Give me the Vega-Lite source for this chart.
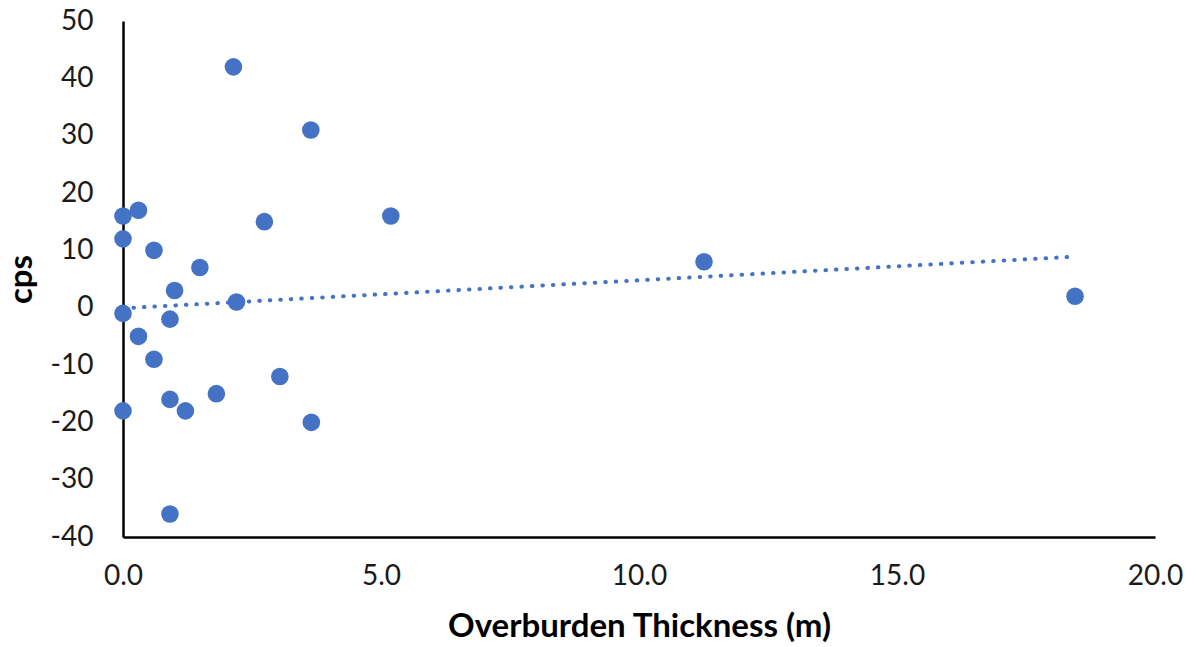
{
  "$schema": "https://vega.github.io/schema/vega-lite/v6.json",
  "autosize": "none",
  "width": 1032,
  "height": 516,
  "padding": {"left": 123, "top": 21, "right": 41, "bottom": 110},
  "background": "white",
  "config": {
    "view": {"stroke": null},
    "font": "Lato",
    "axis": {
      "grid": false,
      "ticks": false,
      "labelFlush": false,
      "domainColor": "#000000",
      "domainWidth": 2.5,
      "labelFont": "Lato",
      "labelFontSize": 28,
      "labelColor": "#1a1a1a",
      "titleFont": "Lato",
      "titleFontSize": 33,
      "titleFontWeight": "bold",
      "titleColor": "#000000"
    }
  },
  "data": {
    "values": [
      {"thickness": 0.0, "cps": 16},
      {"thickness": 0.0, "cps": 12},
      {"thickness": 0.0, "cps": -1},
      {"thickness": 0.0, "cps": -18},
      {"thickness": 0.3, "cps": 17},
      {"thickness": 0.3, "cps": -5},
      {"thickness": 0.6, "cps": 10},
      {"thickness": 0.6, "cps": -9},
      {"thickness": 0.91, "cps": -2},
      {"thickness": 0.91, "cps": -16},
      {"thickness": 0.91, "cps": -36},
      {"thickness": 1.0, "cps": 3},
      {"thickness": 1.21, "cps": -18},
      {"thickness": 1.49, "cps": 7},
      {"thickness": 1.81, "cps": -15},
      {"thickness": 2.14, "cps": 42},
      {"thickness": 2.2, "cps": 1},
      {"thickness": 2.74, "cps": 15},
      {"thickness": 3.04, "cps": -12},
      {"thickness": 3.64, "cps": 31},
      {"thickness": 3.65, "cps": -20},
      {"thickness": 5.19, "cps": 16},
      {"thickness": 11.26, "cps": 8},
      {"thickness": 18.45, "cps": 2}
    ]
  },
  "layer": [
    {
      "transform": [{"regression": "cps", "on": "thickness"}],
      "mark": {
        "type": "line",
        "color": "#4472C4",
        "strokeWidth": 4,
        "strokeCap": "round",
        "strokeDash": [0.5, 10]
      },
      "encoding": {
        "x": {"field": "thickness", "type": "quantitative"},
        "y": {"field": "cps", "type": "quantitative"}
      }
    },
    {
      "mark": {"type": "point", "shape": "circle", "filled": true, "opacity": 1, "color": "#4472C4", "size": 310},
      "encoding": {
        "x": {
          "field": "thickness",
          "type": "quantitative",
          "scale": {"domain": [0, 20], "nice": false, "zero": false},
          "axis": {
            "values": [0, 5, 10, 15, 20],
            "format": ".1f",
            "labelPadding": 25,
            "title": "Overburden Thickness (m)",
            "titlePadding": 20
          }
        },
        "y": {
          "field": "cps",
          "type": "quantitative",
          "scale": {"domain": [-40, 50], "nice": false, "zero": false},
          "axis": {
            "values": [-40, -30, -20, -10, 0, 10, 20, 30, 40, 50],
            "labelExpr": "'' + datum.value",
            "labelPadding": 30,
            "title": "cps",
            "titlePadding": 12
          }
        }
      }
    }
  ]
}
